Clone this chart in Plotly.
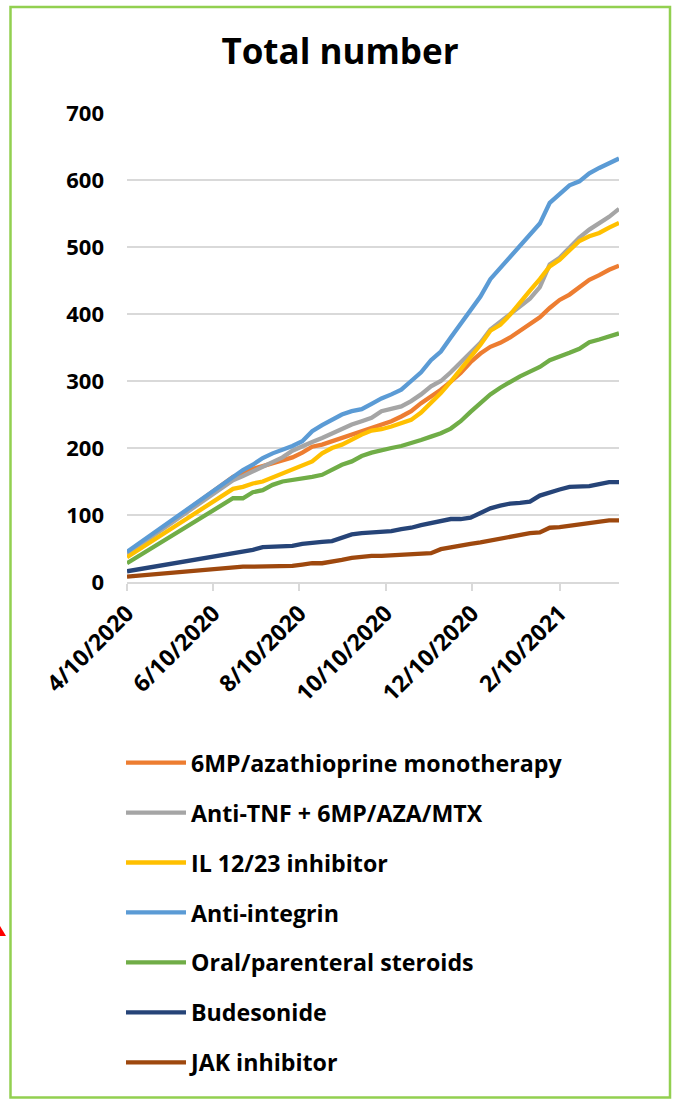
import plotly.graph_objects as go

dates = [
    "2020-04-10", "2020-06-24", "2020-07-01", "2020-07-08", "2020-07-15", "2020-07-22",
    "2020-07-29", "2020-08-05", "2020-08-12", "2020-08-19", "2020-08-26", "2020-09-02",
    "2020-09-09", "2020-09-16", "2020-09-23", "2020-09-30", "2020-10-07", "2020-10-14",
    "2020-10-21", "2020-10-28", "2020-11-04", "2020-11-11", "2020-11-18", "2020-11-25",
    "2020-12-02", "2020-12-09", "2020-12-16", "2020-12-23", "2020-12-30", "2021-01-06",
    "2021-01-13", "2021-01-20", "2021-01-27", "2021-02-03", "2021-02-10", "2021-02-17",
    "2021-02-24", "2021-03-03", "2021-03-10", "2021-03-17", "2021-03-24",
]

mp_aza = [42, 157, 163, 169, 173, 177, 181, 186, 193, 202, 205, 210, 215, 220, 225, 230,
          235, 240, 247, 255, 267, 277, 287, 299, 312, 328, 341, 351, 357, 365, 375, 385,
          395, 409, 421, 429, 441, 451, 458, 466, 472]
anti_tnf_combo = [42, 152, 158, 165, 171, 178, 186, 196, 203, 209, 215, 222, 228, 235, 240, 245,
                  255, 259, 262, 270, 280, 292, 300, 313, 327, 341, 357, 377, 389, 400, 412, 423,
                  440, 474, 484, 499, 514, 526, 535, 545, 557]
il_12_23 = [37, 139, 142, 147, 150, 156, 161, 167, 173, 180, 192, 200, 205, 213, 220, 226,
            228, 232, 237, 242, 253, 267, 282, 299, 317, 337, 354, 375, 384, 399, 418, 435,
            452, 471, 481, 496, 509, 516, 521, 529, 536]
anti_integrin = [45, 158, 167, 175, 185, 192, 197, 203, 210, 225, 234, 242, 250, 255, 258, 266,
                 274, 280, 287, 300, 313, 331, 344, 365, 385, 407, 426, 452, 469, 485, 502, 520,
                 535, 566, 580, 592, 598, 610, 618, 625, 632]
steroids = [28, 125, 125, 134, 137, 145, 150, 152, 154, 157, 160, 167, 175, 180, 188, 193,
            197, 200, 203, 207, 212, 217, 222, 229, 240, 254, 268, 280, 290, 299, 307, 314,
            321, 331, 336, 342, 348, 358, 362, 367, 371]
budesonide = [16, 43, 45, 48, 52, 53, 53, 54, 57, 59, 60, 61, 66, 71, 73, 74,
              75, 76, 79, 81, 85, 88, 91, 94, 94, 96, 103, 110, 114, 117, 118, 120,
              129, 134, 138, 142, 143, 143, 146, 149, 149]
jak = [8, 22, 23, 23, 23, 23, 24, 24, 26, 28, 28, 30, 33, 36, 38, 39,
       39, 40, 40, 41, 42, 43, 49, 52, 55, 57, 59, 62, 65, 68, 71, 73,
       74, 81, 82, 84, 86, 88, 91, 92, 92]

series_names = [
    "6MP/azathioprine monotherapy",
    "Anti-TNF + 6MP/AZA/MTX",
    "IL 12/23 inhibitor",
    "Anti-integrin",
    "Oral/parenteral steroids",
    "Budesonide",
    "JAK inhibitor",
]
series_values = [mp_aza, anti_tnf_combo, il_12_23, anti_integrin, steroids, budesonide, jak]
series_colors = ["#ED7D31", "#A5A5A5", "#FFC000", "#5B9BD5", "#70AD47", "#264478", "#9E480E"]

x_tick_vals = ["2020-04-10", "2020-06-10", "2020-08-10", "2020-10-10", "2020-12-10", "2021-02-10"]
x_tick_text = ["4/10/2020", "6/10/2020", "8/10/2020", "10/10/2020", "12/10/2020", "2/10/2021"]
y_tick_vals = [0, 100, 200, 300, 400, 500, 600, 700]

FONT = "Open Sans"

fig = go.Figure()
for name, vals, col in zip(series_names, series_values, series_colors):
    fig.add_trace(go.Scatter(
        x=dates, y=vals, mode="lines", name=name, legendgroup=name,
        line=dict(color=col, width=4.3),
    ))

W, H = 673, 1103
L, R, T, B = 127, 54, 113, 521
PW, PH = W - L - R, H - T - B


def px(x):
    return (x - L) / PW


def py(y):
    return (H - B - y) / PH


fig.update_layout(
    width=W, height=H, autosize=False,
    margin=dict(l=L, r=R, t=T, b=B, autoexpand=False),
    paper_bgcolor="white", plot_bgcolor="white",
    title=dict(text="Total number", x=340 / W, xref="container", xanchor="center",
               y=1 - 52 / H, yref="container", yanchor="middle",
               font=dict(family=FONT, size=35, color="black", weight="bold")),
    xaxis=dict(type="date", range=[dates[0], dates[-1]], tickmode="array",
               tickvals=x_tick_vals, ticktext=x_tick_text, tickangle=-45,
               showgrid=False, zeroline=False, showline=True, linecolor="#D9D9D9",
               linewidth=1.5, ticks="outside", ticklen=7, tickcolor="#D9D9D9", tickwidth=1.5,
               tickfont=dict(family=FONT, size=23, color="black", weight="bold")),
    yaxis=dict(range=[0, 700], tickmode="array", tickvals=y_tick_vals,
               showgrid=True, gridcolor="#D9D9D9", gridwidth=1.5, zeroline=False,
               showline=False, ticks="", ticklabelstandoff=22,
               tickfont=dict(family=FONT, size=22, color="black", weight="bold")),
    legend=dict(x=px(121), xanchor="left", y=py(741), yanchor="top",
                orientation="v", itemwidth=60, tracegroupgap=16.8,
                bgcolor="rgba(0,0,0,0)",
                font=dict(family=FONT, size=23.2, color="black", weight="bold")),
    shapes=[
        dict(type="rect", xref="paper", yref="paper",
             x0=px(10.5), x1=px(670), y0=py(1097.5), y1=py(7),
             line=dict(color="#92D050", width=2.5), fillcolor="rgba(0,0,0,0)", layer="above"),
        dict(type="path", xref="paper", yref="paper",
             path=f"M {px(0)} {py(926)} L {px(0)} {py(936)} L {px(6)} {py(936)} Z",
             fillcolor="red", line=dict(width=0)),
    ],
)

fig.write_html(
    "out.html",
    config={"displayModeBar": False},
    post_script="document.body.style.margin='0px';document.body.style.overflow='hidden';",
)
